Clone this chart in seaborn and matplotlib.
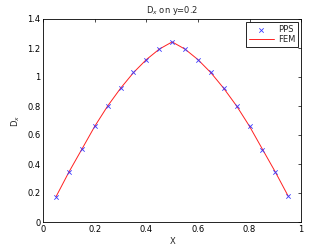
import matplotlib
matplotlib.use("Agg")
import matplotlib.pyplot as plt
import pandas as pd
import seaborn as sns

x_vals = [0.05, 0.10, 0.15, 0.20, 0.25, 0.30, 0.35, 0.40, 0.45, 0.50,
          0.55, 0.60, 0.65, 0.70, 0.75, 0.80, 0.85, 0.90, 0.95]
pps_vals = [0.175, 0.345, 0.505, 0.660, 0.800, 0.922, 1.032, 1.120, 1.192, 1.242,
            1.190, 1.120, 1.035, 0.922, 0.800, 0.660, 0.495, 0.345, 0.180]
fem_vals = [0.175, 0.345, 0.502, 0.660, 0.800, 0.922, 1.030, 1.120, 1.192, 1.242,
            1.192, 1.120, 1.030, 0.922, 0.800, 0.660, 0.502, 0.345, 0.178]
x_ticks = [0, 0.2, 0.4, 0.6, 0.8, 1]
x_tick_labels = ["0", "0.2", "0.4", "0.6", "0.8", "1"]
y_ticks = [0, 0.2, 0.4, 0.6, 0.8, 1, 1.2, 1.4]
y_tick_labels = ["0", "0.2", "0.4", "0.6", "0.8", "1", "1.2", "1.4"]

df = pd.DataFrame({"x": x_vals, "pps": pps_vals, "fem": fem_vals})

sns.set_theme(style="white")
plt.rcParams["font.family"] = ["DejaVu Sans"]
fs = 6

fig = plt.figure(figsize=(3.32, 2.5), dpi=100)
ax = fig.add_axes([0.13, 0.112, 0.777, 0.812])

sns.scatterplot(data=df, x="x", y="pps", ax=ax, marker="x", color="#3b3bff",
                s=10, linewidth=0.6, label="PPS", zorder=3)
sns.lineplot(data=df, x="x", y="fem", ax=ax, color="#ff2020", linewidth=0.7,
             label="FEM", zorder=2)

ax.set_xlim(0, 1)
ax.set_ylim(0, 1.4)
ax.set_xticks(x_ticks)
ax.set_xticklabels(x_tick_labels)
ax.set_yticks(y_ticks)
ax.set_yticklabels(y_tick_labels)
ax.tick_params(direction="in", length=2.5, width=0.5, labelsize=fs,
               top=True, right=True, colors="black", pad=2)
for spine in ax.spines.values():
    spine.set_linewidth(0.6)
    spine.set_color("black")

ax.set_title("D$_x$ on y=0.2", fontsize=fs, pad=4)
ax.set_xlabel("X", fontsize=fs, labelpad=2)
ax.set_ylabel("D$_x$", fontsize=fs, labelpad=4)

leg = ax.legend(loc="upper right", fontsize=fs, frameon=True, fancybox=False,
                edgecolor="black", borderpad=0.3, handlelength=3.0,
                labelspacing=0.15, borderaxespad=0.4, handletextpad=0.5)
leg.get_frame().set_linewidth(0.6)
leg.get_frame().set_alpha(1)

fig.savefig("out.png", dpi=100)
